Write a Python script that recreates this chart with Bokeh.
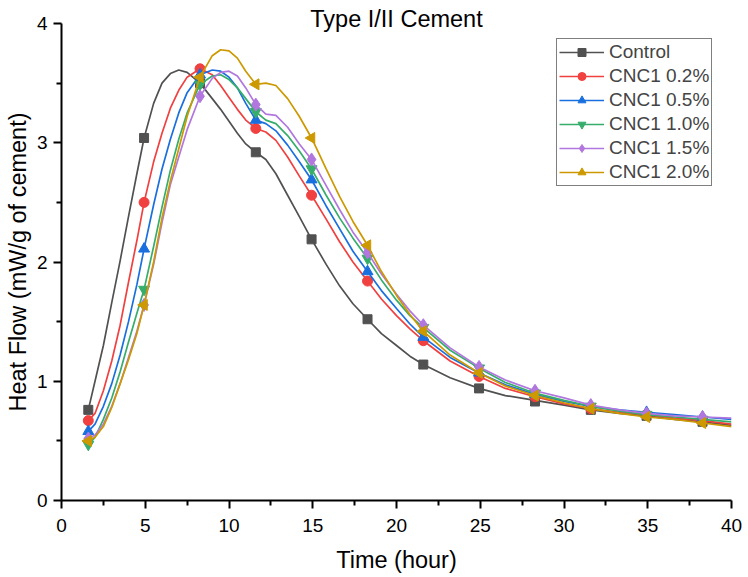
import numpy as np
from bokeh.plotting import figure
from bokeh.models import Range1d, FixedTicker, Legend, LegendItem, LinearAxis
from bokeh.embed import file_html
from bokeh.resources import INLINE

# ---------------- data ----------------
series_names = ["Control", "CNC1 0.2%", "CNC1 0.5%", "CNC1 1.0%", "CNC1 1.5%", "CNC1 2.0%"]

# marker positions (hours)
marker_x = [1.6, 4.93, 8.27, 11.6, 14.93, 18.27, 21.6, 24.93, 28.27, 31.6, 34.93, 38.27]

control_pts = [0.76, 3.04, 3.50, 2.92, 2.19, 1.52, 1.14, 0.94, 0.83, 0.76, 0.71, 0.66]
cnc02_pts = [0.67, 2.50, 3.62, 3.12, 2.56, 1.84, 1.34, 1.04, 0.87, 0.77, 0.72, 0.67]
cnc05_pts = [0.58, 2.11, 3.57, 3.19, 2.69, 1.92, 1.37, 1.07, 0.89, 0.79, 0.74, 0.70]
cnc10_pts = [0.47, 1.77, 3.49, 3.26, 2.78, 2.03, 1.45, 1.11, 0.90, 0.79, 0.72, 0.68]
cnc15_pts = [0.52, 1.64, 3.39, 3.32, 2.86, 2.08, 1.47, 1.12, 0.92, 0.80, 0.73, 0.70]
cnc20_pts = [0.50, 1.64, 3.55, 3.49, 3.04, 2.14, 1.42, 1.07, 0.88, 0.77, 0.70, 0.65]

# smooth connecting curves at these hours
curve_x = [1.6, 2.0, 2.5, 3.0, 3.5, 4.0, 4.5, 4.93, 5.5, 6.0, 6.5, 7.0, 7.5, 8.27,
           9.0, 9.5, 10.0, 10.5, 11.0, 11.6, 12.2, 12.8, 13.5, 14.2, 14.93, 15.8,
           16.6, 17.4, 18.27, 19.1, 20.0, 20.8, 21.6, 23.2, 24.93, 26.5, 28.27,
           30.0, 31.6, 33.3, 34.93, 36.6, 38.27, 40.0]

control_curve = [0.76, 1.00, 1.30, 1.66, 2.01, 2.38, 2.74, 3.04, 3.33, 3.50, 3.58, 3.61, 3.59, 3.50,
                 3.37, 3.28, 3.18, 3.08, 2.99, 2.92, 2.86, 2.74, 2.56, 2.38, 2.19, 1.98,
                 1.80, 1.65, 1.52, 1.40, 1.30, 1.21, 1.14, 1.03, 0.94, 0.88, 0.84,
                 0.80, 0.76, 0.73, 0.71, 0.68, 0.66, 0.63]
cnc02_curve = [0.67, 0.73, 0.92, 1.17, 1.47, 1.83, 2.18, 2.50, 2.84, 3.08, 3.29, 3.44, 3.55, 3.62,
               3.57, 3.48, 3.38, 3.28, 3.19, 3.12, 3.09, 3.02, 2.88, 2.72, 2.56, 2.36,
               2.17, 2.00, 1.84, 1.69, 1.55, 1.44, 1.34, 1.17, 1.04, 0.94, 0.87,
               0.81, 0.77, 0.74, 0.72, 0.69, 0.67, 0.64]
cnc05_curve = [0.58, 0.64, 0.79, 0.98, 1.22, 1.50, 1.81, 2.11, 2.48, 2.78, 3.03, 3.25, 3.42, 3.57,
               3.61, 3.60, 3.55, 3.46, 3.33, 3.19, 3.16, 3.10, 2.98, 2.84, 2.69, 2.47,
               2.28, 2.09, 1.92, 1.76, 1.61, 1.48, 1.37, 1.20, 1.07, 0.97, 0.89,
               0.83, 0.79, 0.76, 0.74, 0.72, 0.70, 0.68]
cnc10_curve = [0.47, 0.53, 0.68, 0.86, 1.08, 1.33, 1.57, 1.77, 2.13, 2.46, 2.77, 3.03, 3.25, 3.49,
               3.56, 3.57, 3.53, 3.46, 3.37, 3.26, 3.19, 3.16, 3.06, 2.93, 2.78, 2.56,
               2.37, 2.20, 2.03, 1.85, 1.68, 1.55, 1.45, 1.26, 1.11, 0.99, 0.90,
               0.84, 0.79, 0.75, 0.72, 0.70, 0.68, 0.66]
cnc15_curve = [0.52, 0.55, 0.64, 0.79, 0.98, 1.20, 1.42, 1.64, 1.98, 2.33, 2.65, 2.88, 3.11, 3.39,
               3.54, 3.59, 3.60, 3.56, 3.46, 3.32, 3.24, 3.23, 3.13, 2.99, 2.86, 2.64,
               2.44, 2.25, 2.08, 1.90, 1.73, 1.59, 1.47, 1.28, 1.12, 1.01, 0.92,
               0.86, 0.80, 0.76, 0.73, 0.71, 0.70, 0.69]
cnc20_curve = [0.50, 0.53, 0.62, 0.78, 0.98, 1.18, 1.40, 1.64, 2.00, 2.37, 2.68, 2.95, 3.22, 3.55,
               3.73, 3.78, 3.77, 3.71, 3.60, 3.49, 3.50, 3.48, 3.37, 3.22, 3.04, 2.78,
               2.55, 2.34, 2.14, 1.92, 1.72, 1.56, 1.42, 1.22, 1.07, 0.96, 0.88,
               0.82, 0.77, 0.73, 0.70, 0.68, 0.65, 0.62]

x_ticks = [0, 5, 10, 15, 20, 25, 30, 35, 40]
x_minor = [2.5, 7.5, 12.5, 17.5, 22.5, 27.5, 32.5, 37.5]
y_ticks = [0, 1, 2, 3, 4]
y_minor = [0.5, 1.5, 2.5, 3.5]

title_text = "Type I/II Cement"
x_label_text = "Time (hour)"
y_label_text = "Heat Flow (mW/g of cement)"

# ---------------- styling ----------------
FONT = "Liberation Sans"
colors = ["#515151", "#F14040", "#1A6FDF", "#37AD6B", "#B177DE", "#CC9900"]
markers = ["square", "circle", "triangle", "inverted_triangle", "diamond", "triangle"]
msizes = [9, 10, 11, 11, 13, 11]
mangles = [0, 0, 0, 0, 0, np.pi / 2]

p = figure(width=744, height=577, output_backend="svg", toolbar_location=None,
           x_range=Range1d(0, 40), y_range=Range1d(0, 4),
           min_border_left=61, min_border_right=13, min_border_top=23, min_border_bottom=77)
p.outline_line_color = None
p.xgrid.grid_line_color = None
p.ygrid.grid_line_color = None
p.background_fill_color = "white"
p.border_fill_color = "white"

for ax in (p.xaxis[0], p.yaxis[0]):
    ax.axis_line_width = 2
    ax.axis_line_color = "black"
    ax.major_tick_line_width = 2
    ax.minor_tick_line_width = 2
    ax.major_tick_line_color = "black"
    ax.minor_tick_line_color = "black"
    ax.major_tick_in = 0
    ax.major_tick_out = 8
    ax.minor_tick_in = 0
    ax.minor_tick_out = 5
    ax.major_label_text_font = FONT
    ax.major_label_text_font_size = "19px"
    ax.major_label_text_color = "black"
    ax.axis_label_text_font = FONT
    ax.axis_label_text_font_size = "23.5px"
    ax.axis_label_text_font_style = "normal"
    ax.axis_label_text_color = "black"

p.xaxis.ticker = FixedTicker(ticks=x_ticks, minor_ticks=x_minor)
p.yaxis.ticker = FixedTicker(ticks=y_ticks, minor_ticks=y_minor)
p.xaxis.axis_label = x_label_text
p.yaxis.axis_label = y_label_text
p.xaxis.major_label_standoff = 10
p.yaxis.major_label_standoff = 6
p.xaxis.axis_label_standoff = 12
p.yaxis.axis_label_standoff = 3

# title drawn as the label of an empty axis above the frame
top = LinearAxis(ticker=FixedTicker(ticks=[]), axis_line_color=None,
                 major_tick_line_color=None, minor_tick_line_color=None,
                 major_label_text_font_size="0px",
                 axis_label=title_text, axis_label_text_font=FONT,
                 axis_label_text_font_size="23.5px", axis_label_text_font_style="normal",
                 axis_label_text_color="black", axis_label_standoff=-8)
p.add_layout(top, "above")

curves = [control_curve, cnc02_curve, cnc05_curve, cnc10_curve, cnc15_curve, cnc20_curve]
pts = [control_pts, cnc02_pts, cnc05_pts, cnc10_pts, cnc15_pts, cnc20_pts]

items = []
for name, cy, py, c, m, s, a in zip(series_names, curves, pts, colors, markers, msizes, mangles):
    lr = p.line(curve_x, cy, line_color=c, line_width=1.7)
    sr = p.scatter(marker_x, py, marker=m, size=s, angle=a,
                   fill_color=c, line_color=c, line_width=1)
    items.append(LegendItem(label=name, renderers=[lr, sr]))

legend = Legend(items=items, location=(495, 314),
                label_text_font=FONT, label_text_font_size="19px",
                glyph_width=45, glyph_height=20, label_height=20,
                spacing=2, padding=2, margin=0, label_standoff=5,
                border_line_color="black", border_line_width=1,
                background_fill_color="white", background_fill_alpha=1)
p.add_layout(legend, "center")

open("out.html", "w").write(file_html(p, INLINE))
